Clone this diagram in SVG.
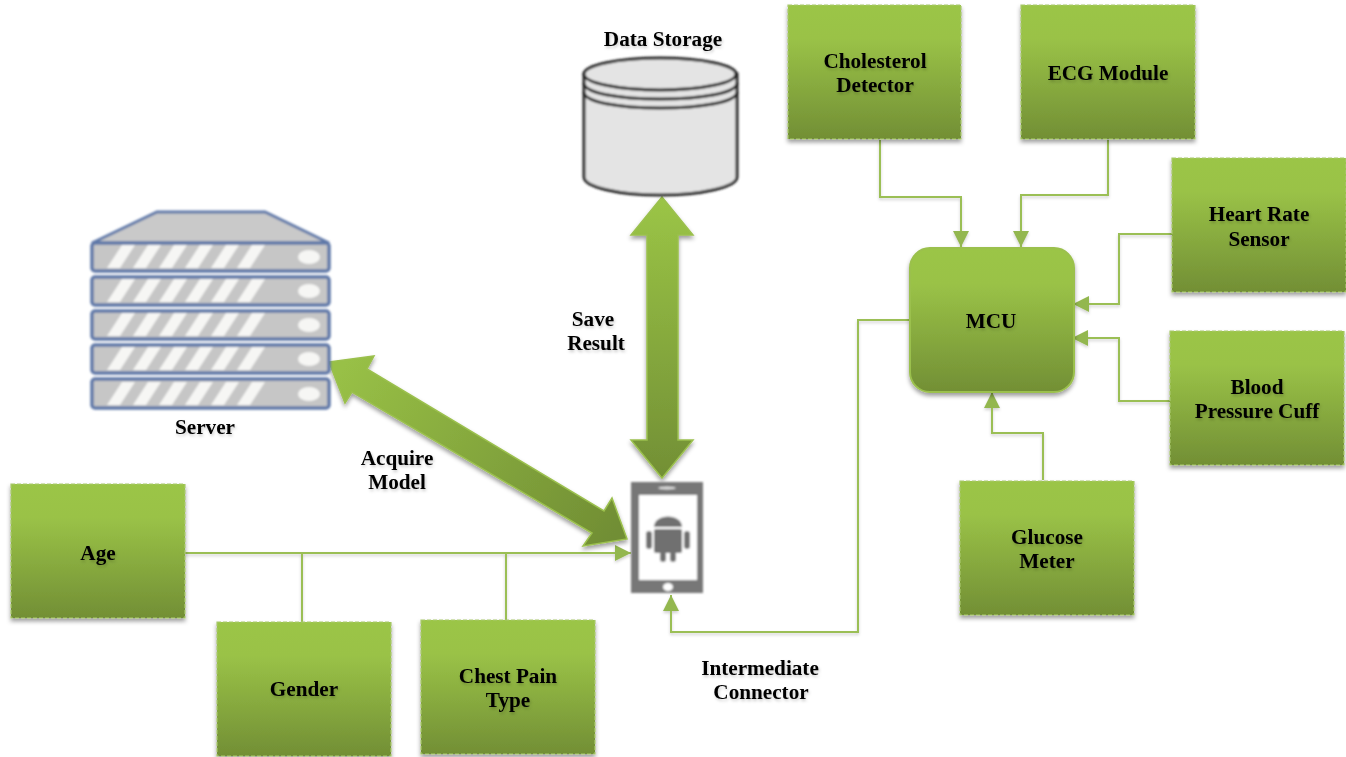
<svg xmlns="http://www.w3.org/2000/svg" width="1346" height="757" viewBox="0 0 1346 757">
<style>
text{font-family:"Liberation Serif","Times New Roman",serif;font-weight:bold;font-size:21.2px;fill:#000;text-anchor:middle;filter:url(#soft)}
.box{fill:url(#g);stroke:#a9c96f;stroke-width:1.2;stroke-dasharray:4 2;filter:url(#sh)}
.mcu{fill:url(#g);stroke:#9bc04d;stroke-width:2;filter:url(#sh)}
.line{fill:none;stroke:#9bbf55;stroke-width:2;filter:url(#lsh)}
.block{fill:url(#g2);stroke:#9bc04d;stroke-width:1.5;filter:url(#sh)}
.unit{fill:#c6c6c6;stroke:#5f78a8;stroke-width:3.5}
.st{fill:#f6f6f4}
</style>
<defs>
<linearGradient id="g" x1="0" y1="0" x2="0" y2="1"><stop offset="0" stop-color="#9bc546"/><stop offset=".25" stop-color="#9ac247"/><stop offset="1" stop-color="#728f35"/></linearGradient>
<linearGradient id="g2" gradientUnits="userSpaceOnUse" x1="0" y1="197" x2="0" y2="478"><stop offset="0" stop-color="#9bc546"/><stop offset="1" stop-color="#728f35"/></linearGradient>
<linearGradient id="g3" gradientUnits="userSpaceOnUse" x1="352" y1="355" x2="610" y2="540"><stop offset="0" stop-color="#98c046"/><stop offset="1" stop-color="#718e34"/></linearGradient>
<filter id="sh" x="-15%" y="-15%" width="130%" height="130%"><feDropShadow dx="0" dy="3" stdDeviation="2.2" flood-color="#000" flood-opacity=".38"/></filter>
<filter id="lsh" filterUnits="userSpaceOnUse" x="0" y="0" width="1346" height="757"><feGaussianBlur in="SourceGraphic" stdDeviation=".35" result="b"/><feDropShadow in="b" dx="0" dy="2" stdDeviation="1.5" flood-color="#000" flood-opacity=".18"/></filter>
<filter id="soft" x="-10%" y="-20%" width="120%" height="150%"><feGaussianBlur in="SourceGraphic" stdDeviation=".25" result="b"/><feDropShadow in="b" dx="1" dy="2" stdDeviation="1.5" flood-color="#000" flood-opacity=".2"/></filter>
<filter id="blur" x="-5%" y="-5%" width="110%" height="110%"><feGaussianBlur stdDeviation="1"/></filter>
<marker id="a" markerUnits="userSpaceOnUse" markerWidth="18" markerHeight="18" refX="16" refY="9" orient="auto"><path d="M0 1L16 9L0 17Z" fill="#93b74f"/></marker>
<g id="stripes">
<path class="st" d="M122 0h13L120 23h-13ZM148 0h13L146 23h-13ZM174 0h13L172 23h-13ZM200 0h13L198 23h-13ZM226 0h13L224 23h-13ZM252 0h13L250 23h-13Z"/>
<ellipse class="st" cx="309" cy="12" rx="11" ry="7"/>
</g>
</defs>
<rect width="1346" height="757" fill="#fff"/>
<g id="connectors">
<path class="line" d="M880 140V197H961V247" marker-end="url(#a)"/>
<path class="line" d="M1108 140V195H1021V247" marker-end="url(#a)"/>
<path class="line" d="M1172 234H1119V304H1073" marker-end="url(#a)"/>
<path class="line" d="M1170 401H1119V338H1072" marker-end="url(#a)"/>
<path class="line" d="M1043 480V433H992V392" marker-end="url(#a)"/>
<path class="line" d="M909 320H858V632H671V595" marker-end="url(#a)"/>
<path class="line" d="M185 553H631" marker-end="url(#a)"/>
<path class="line" d="M302 553V622M506 553V620"/>
<path class="block" d="M662 197L693 235H678V440H693L662 478L631 440H647V235H631Z"/>
<path class="block" style="fill:url(#g3)" d="M329 362L374 356L367 369L604 511L612 498L627 539L583 546L592 533L352 392L345 403Z"/>
</g>
<g id="server" filter="url(#blur)">
<path d="M157 212H265L329 243H92Z" fill="#c9c9c9" stroke="#5f78a8" stroke-width="3"/>
<rect class="unit" x="92" y="243" width="237" height="28" rx="3"/><use href="#stripes" y="245"/>
<rect class="unit" x="92" y="277" width="237" height="28" rx="3"/><use href="#stripes" y="279"/>
<rect class="unit" x="92" y="311" width="237" height="28" rx="3"/><use href="#stripes" y="313"/>
<rect class="unit" x="92" y="345" width="237" height="28" rx="3"/><use href="#stripes" y="347"/>
<rect class="unit" x="92" y="379" width="237" height="29" rx="3"/><use href="#stripes" y="382"/>
</g>
<text x="205" y="434">Server</text>
<g id="storage" filter="url(#blur)">
<path d="M584 74V177C584 187 618 195 660 195S737 187 737 177V74Z" fill="#e4e4e4" stroke="#222" stroke-width="3"/>
<ellipse cx="660" cy="74" rx="76" ry="16" fill="#e4e4e4" stroke="#222" stroke-width="3"/>
<path d="M584 83C584 93 618 99 660 99S737 93 737 83M584 92C584 102 618 108 660 108S737 102 737 92" fill="none" stroke="#222" stroke-width="3"/>
</g>
<text x="663" y="46">Data Storage</text>
<g id="phone" filter="url(#blur)">
<rect x="631" y="482" width="72" height="111" fill="#777"/>
<rect x="639" y="495" width="58" height="85" fill="#fff"/>
<ellipse cx="667" cy="488" rx="9" ry="1.5" fill="#ddd"/>
<ellipse cx="668" cy="587" rx="5" ry="4" fill="#fff"/>
<g fill="#707070">
<path d="M654 527C654 513 682 513 682 527Z"/>
<rect x="654" y="529" width="28" height="24" rx="2"/>
<rect x="646" y="531" width="6" height="18" rx="3"/>
<rect x="684" y="531" width="6" height="18" rx="3"/>
<rect x="660" y="552" width="6" height="10" rx="3"/>
<rect x="670" y="552" width="6" height="10" rx="3"/>
</g>
</g>
<text x="593" y="326">Save</text><text x="596" y="350">Result</text>
<text x="397" y="465">Acquire</text><text x="397" y="489">Model</text>
<text x="760" y="675">Intermediate</text><text x="761" y="699">Connector</text>
<g id="age"><rect class="box" x="11" y="484" width="174" height="134"/><text x="98" y="560">Age</text></g>
<g id="gender"><rect class="box" x="217" y="622" width="174" height="134"/><text x="304" y="696">Gender</text></g>
<g id="chest"><rect class="box" x="421" y="620" width="174" height="134"/><text x="508" y="683">Chest Pain</text><text x="508" y="707">Type</text></g>
<g id="cholesterol"><rect class="box" x="788" y="5" width="173" height="134"/><text x="875" y="68">Cholesterol</text><text x="875" y="92">Detector</text></g>
<g id="ecg"><rect class="box" x="1021" y="5" width="174" height="134"/><text x="1108" y="80">ECG Module</text></g>
<g id="heart"><rect class="box" x="1172" y="158" width="174" height="134"/><text x="1259" y="221">Heart Rate</text><text x="1259" y="246">Sensor</text></g>
<g id="bp"><rect class="box" x="1170" y="331" width="174" height="134"/><text x="1257" y="394">Blood</text><text x="1257" y="418">Pressure Cuff</text></g>
<g id="glucose"><rect class="box" x="960" y="481" width="174" height="134"/><text x="1047" y="544">Glucose</text><text x="1047" y="568">Meter</text></g>
<g id="mcu"><rect class="mcu" x="910" y="248" width="164" height="144" rx="20"/><text x="991" y="328">MCU</text></g>
</svg>
